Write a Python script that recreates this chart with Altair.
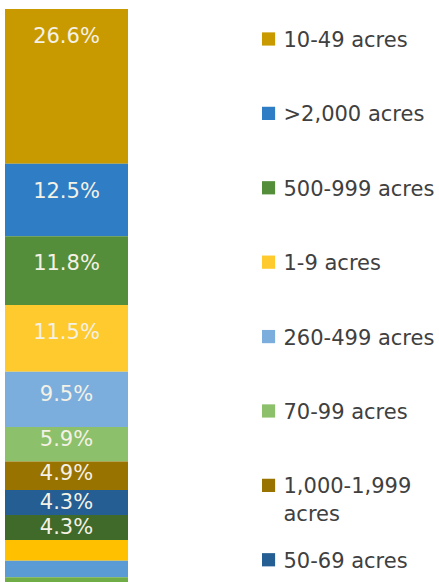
import altair as alt
import pandas as pd

# ---- data (share of farms, %) ----
sizes = [
    "10-49 acres", ">2,000 acres", "500-999 acres", "1-9 acres",
    "260-499 acres", "70-99 acres", "1,000-1,999 acres", "50-69 acres",
    "100-139 acres", "140-179 acres", "180-219 acres", "220-259 acres",
]
shares = [26.6, 12.5, 11.8, 11.5, 9.5, 5.9, 4.9, 4.3, 4.3, 3.6, 2.8, 2.3]
colors = [
    "#C99A00", "#2F7EC5", "#548E3A", "#FFCA2E",
    "#7BAEDD", "#8CC06A", "#997300", "#245E93",
    "#3F6A2A", "#FFC000", "#5B9BD5", "#70AD47",
]

df = pd.DataFrame({"size": sizes, "share": shares, "rank": list(range(len(sizes)))})

FONT = "DejaVu Sans"
PX_PER_PCT = 5.815
BAR_W = 123
PLOT_H = 573
y_max = PLOT_H / PX_PER_PCT

color = alt.Color("size:N", scale=alt.Scale(domain=sizes, range=colors), legend=None)
yscale = alt.Scale(domain=[0, y_max], reverse=True, nice=False, zero=False)
xenc = alt.X("bar:N", axis=None, scale=alt.Scale(paddingInner=0, paddingOuter=0))

base = (
    alt.Chart(df)
    .transform_window(cum="sum(share)", sort=[alt.SortField("rank")], frame=[None, 0])
    .transform_calculate(start="datum.cum - datum.share", bar="'all'")
)

bars = base.mark_bar(clip=True, strokeWidth=0).encode(
    x=xenc,
    y=alt.Y("start:Q", scale=yscale, axis=None),
    y2="cum:Q",
    color=color,
)

labels = (
    base.transform_filter("datum.share >= 4")
    .transform_calculate(
        pos="datum.start + clamp(datum.share / 2 - 0.69, 2.24, 4.82)",
        txt="format(datum.share, '.1f') + '%'",
    )
    .mark_text(font=FONT, fontSize=21, color="#F4F1E6", baseline="middle", dy=0, clip=True)
    .encode(x=xenc, y=alt.Y("pos:Q", scale=yscale, axis=None), text="txt:N")
)

bar_chart = alt.layer(bars, labels).properties(width=BAR_W, height=PLOT_H)

leg_y = alt.Y(
    "rank:Q",
    scale=alt.Scale(domain=[-0.403, 7.299], reverse=True, nice=False, zero=False),
    axis=None,
)
sym = alt.Chart(df).mark_square(size=175, opacity=1, clip=True).encode(
    x=alt.value(6.5), y=leg_y, color=color
)
txt = (
    alt.Chart(df)
    .transform_calculate(
        label="length(datum.size) > 13 ? replace(datum.size, ' acres', '|acres') : datum.size"
    )
    .mark_text(
        align="left", baseline="alphabetic", dy=8, lineBreak="|", lineHeight=28,
        font=FONT, fontSize=21, color="#404040", clip=True,
    )
    .encode(x=alt.value(21.5), y=leg_y, text="label:N")
)
legend_chart = alt.layer(sym, txt).properties(width=177, height=PLOT_H)

chart = (
    alt.hconcat(bar_chart, legend_chart, spacing=134)
    .properties(padding={"top": 9, "left": 5, "right": 0, "bottom": 0})
    .configure(background="white")
    .configure_view(stroke=None)
)

chart.save("out.html", embed_options={"renderer": "svg", "actions": False})
